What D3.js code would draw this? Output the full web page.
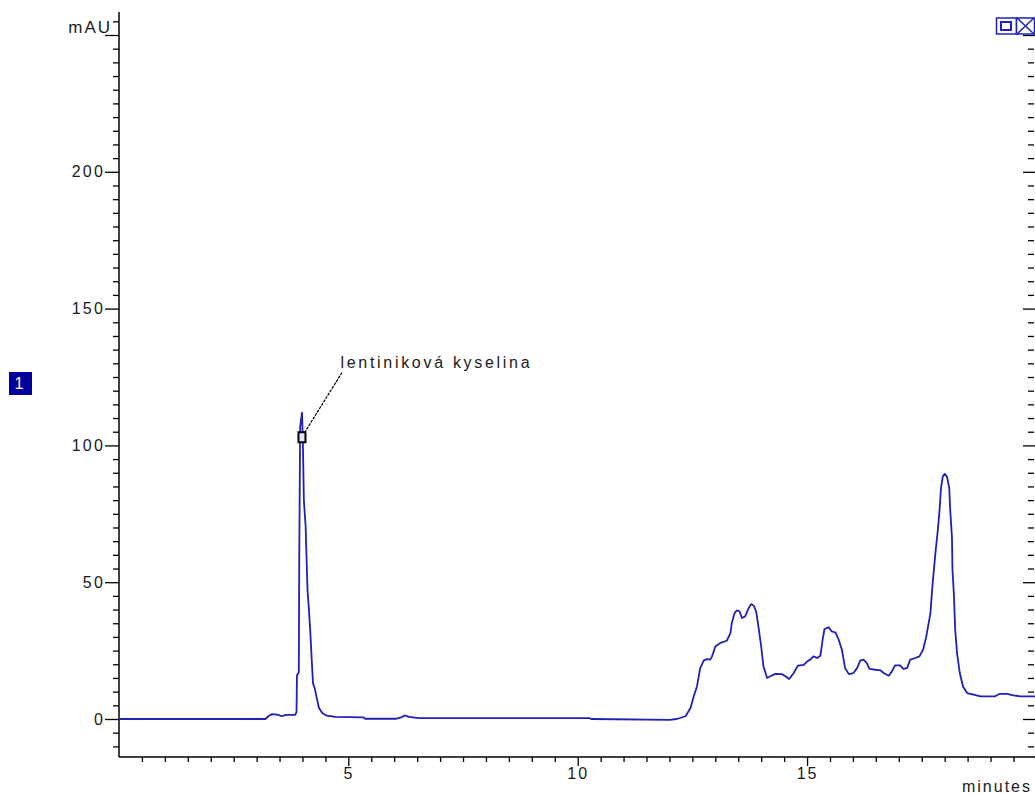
<!DOCTYPE html>
<html>
<head>
<meta charset="utf-8">
<script src="https://cdn.jsdelivr.net/npm/d3@7"></script>
<style>
  html, body { margin: 0; padding: 0; background: #fff; }
  svg { display: block; }
  text { font-family: "Liberation Sans", Arial, sans-serif; fill: #1a1a1a; }
</style>
</head>
<body>
<div id="chart"></div>
<script>
// retention time (min) and detector signal (mAU)
const retention = [
    0, 3.19, 3.27, 3.34, 3.45, 3.55, 3.62, 3.70, 3.84, 3.87,
    3.88, 3.92, 3.93, 3.95, 3.99, 4.01, 4.03, 4.07, 4.09, 4.11,
    4.14, 4.17, 4.20, 4.23, 4.27, 4.32, 4.36, 4.43, 4.53, 4.72,
    5.33, 5.36, 6.05, 6.15, 6.23, 6.32, 6.45, 6.55, 10.25, 10.3,
    12.0, 12.16, 12.35, 12.46, 12.53, 12.6, 12.67, 12.75, 12.82, 12.89,
    12.93, 13.0, 13.11, 13.25, 13.33, 13.36, 13.42, 13.47, 13.53, 13.58,
    13.65, 13.73, 13.78, 13.84, 13.89, 13.94, 14.0, 14.05, 14.13, 14.2,
    14.31, 14.45, 14.53, 14.61, 14.71, 14.8, 14.93, 15.0, 15.07, 15.14,
    15.22, 15.29, 15.34, 15.38, 15.47, 15.54, 15.62, 15.69, 15.76, 15.83,
    15.91, 16.01, 16.09, 16.16, 16.23, 16.3, 16.36, 16.49, 16.6, 16.67,
    16.78, 16.85, 16.92, 17.03, 17.1, 17.18, 17.25, 17.36, 17.45, 17.53,
    17.6, 17.69, 17.73, 17.76, 17.8, 17.85, 17.89, 17.92, 17.96, 18.0,
    18.05, 18.1, 18.12, 18.16, 18.17, 18.2, 18.23, 18.27, 18.33, 18.4,
    18.49, 18.63, 18.78, 19.1, 19.2, 19.36, 19.5, 19.65, 20.0
];
const signal = [
    0, 0, 1.2, 1.8, 1.6, 1.0, 1.4, 1.5, 1.5, 2.5,
    16, 17, 60, 107, 112, 100, 80, 70, 58, 47,
    40, 32, 22, 13, 11, 7, 4, 2.2, 1.2, 0.8,
    0.6, 0.1, 0.1, 0.6, 1.3, 0.8, 0.5, 0.3, 0.3, 0,
    -0.3, 0, 1, 4, 8.3, 11.9, 18.6, 21.4, 21.9, 21.7,
    22.9, 26.5, 27.8, 28.6, 31.4, 35.1, 38.7, 39.7, 39.3, 36.9,
    37.5, 40.6, 42, 41.4, 39.3, 33.8, 26.5, 19.2, 15, 15.6,
    16.5, 16.4, 15.6, 14.6, 16.8, 19.5, 19.8, 21, 21.7, 22.9,
    22.3, 23.1, 29, 32.9, 33.5, 32, 31.6, 29, 25.3, 18.6,
    16.4, 16.8, 18.6, 21.3, 21.7, 20.5, 18.3, 18, 17.8, 16.8,
    15.8, 17.4, 19.6, 19.6, 18.3, 18.6, 21.7, 22.3, 22.9, 25.3,
    30.2, 38.7, 47.9, 53.6, 60.9, 68.9, 76.7, 84.4, 88.6, 89.6,
    88.6, 84.4, 76.7, 66.1, 54.6, 46, 32.6, 24.1, 16.8, 11.9,
    9.5, 8.9, 8.3, 8.3, 9.2, 9.2, 8.6, 8.3, 8.3
];
console.log(retention.length, signal.length);

const xMajor = [5, 10, 15];
const yMajor = [0, 50, 100, 150, 200];
const yTopLabel = "mAU";
const xTitle = "minutes";
const peakName = "lentiniková kyselina";
const peakMarker = {t: 4.0, v: 102.8};
const traceNo = "1";

const width = 1035, height = 794;

const svg = d3.select("#chart").append("svg")
    .attr("width", width)
    .attr("height", height);

const x = d3.scaleLinear().domain([0, 20]).range([119, 1036.4]);
const y = d3.scaleLinear().domain([0, 250]).range([719, 35]);

const yMinor = d3.range(-10, 256, 5).filter(v => v % 50 !== 0);
const xMinor = d3.range(0.5, 20, 0.5).filter(v => v % 5 !== 0);

// left axis
svg.append("g")
    .attr("transform", "translate(119,0)")
    .call(d3.axisLeft(y).tickValues(yMinor).tickSize(6).tickFormat(""))
    .call(g => g.select(".domain").remove());
const yAx = svg.append("g")
    .attr("transform", "translate(119,0)")
    .call(d3.axisLeft(y).tickValues(yMajor.concat([250])).tickSize(14).tickPadding(0))
    .call(g => g.select(".domain").remove());
yAx.selectAll("text")
    .style("font-size", "16px")
    .style("letter-spacing", "2.2px")
    .text(d => d === 250 ? "" : d);
svg.append("line")
    .attr("x1", 119).attr("x2", 119)
    .attr("y1", 12).attr("y2", 757)
    .attr("stroke", "#000").attr("stroke-width", 1.5);
svg.append("text")
    .attr("x", 112).attr("y", 33)
    .attr("text-anchor", "end")
    .style("font-size", "17px")
    .style("letter-spacing", "2px")
    .text(yTopLabel);

// right tick marks
svg.append("g")
    .attr("transform", "translate(1034,0)")
    .call(d3.axisLeft(y).tickValues(yMinor).tickSize(6).tickFormat(""))
    .call(g => g.select(".domain").remove());
svg.append("g")
    .attr("transform", "translate(1035,0)")
    .call(d3.axisLeft(y).tickValues(yMajor.concat([250])).tickSize(12).tickFormat(""))
    .call(g => g.select(".domain").remove());

// bottom axis
svg.append("g")
    .attr("transform", "translate(0,757)")
    .call(d3.axisBottom(x).tickValues(xMinor).tickSize(5).tickFormat(""))
    .call(g => g.select(".domain").remove());
const xAx = svg.append("g")
    .attr("transform", "translate(0,757)")
    .call(d3.axisBottom(x).tickValues(xMajor).tickSize(9).tickPadding(2))
    .call(g => g.select(".domain").remove());
xAx.selectAll("text")
    .style("font-size", "16px")
    .style("letter-spacing", "2px");
svg.append("line")
    .attr("x1", 119).attr("x2", width)
    .attr("y1", 757).attr("y2", 757)
    .attr("stroke", "#000").attr("stroke-width", 1.5);
svg.selectAll(".tick line").attr("stroke", "#000").attr("stroke-width", 1.3);

svg.append("text")
    .attr("x", 1032).attr("y", 792)
    .attr("text-anchor", "end")
    .style("font-size", "16px")
    .style("letter-spacing", "2px")
    .text(xTitle);

// trace
const data = retention.map((t, i) => ({t: t, v: signal[i]}));
const line = d3.line().x(d => x(d.t)).y(d => y(d.v));
svg.append("path")
    .datum(data)
    .attr("d", line)
    .attr("fill", "none")
    .attr("stroke", "#2020b4")
    .attr("stroke-width", 1.8)
    .attr("stroke-linejoin", "round");

// peak annotation
const mx = x(peakMarker.t), my = y(peakMarker.v);
svg.append("line")
    .attr("x1", mx + 2).attr("y1", my - 5)
    .attr("x2", mx + 40).attr("y2", my - 66)
    .attr("stroke", "#000")
    .attr("stroke-width", 1.2)
    .attr("stroke-dasharray", "3,1");
svg.append("rect")
    .attr("x", mx - 4).attr("y", my - 5.5)
    .attr("width", 7).attr("height", 10)
    .attr("fill", "#dfe4ff")
    .attr("stroke", "#000")
    .attr("stroke-width", 2);
svg.append("text")
    .attr("x", mx + 38).attr("y", my - 70)
    .style("font-size", "16px")
    .style("letter-spacing", "2.7px")
    .text(peakName);

// trace number box
svg.append("rect")
    .attr("x", 9).attr("y", 372)
    .attr("width", 23).attr("height", 23)
    .attr("fill", "#00009c");
svg.append("text")
    .attr("x", 19).attr("y", 389)
    .attr("text-anchor", "middle")
    .style("font-size", "16px")
    .style("fill", "#fff")
    .text(traceNo);

// window buttons, top right
const ic = svg.append("g").attr("stroke", "#2020c0").attr("stroke-width", 1.5).attr("fill", "#fff");
ic.append("rect").attr("x", 996.5).attr("y", 18).attr("width", 20).attr("height", 16);
ic.append("rect").attr("x", 1001).attr("y", 22).attr("width", 10).attr("height", 8).attr("stroke-width", 2);
ic.append("rect").attr("x", 1016.5).attr("y", 18).attr("width", 18).attr("height", 16);
ic.append("path").attr("d", "M1017,18L1034,34M1034,18L1017,34");
</script>
</body>
</html>
